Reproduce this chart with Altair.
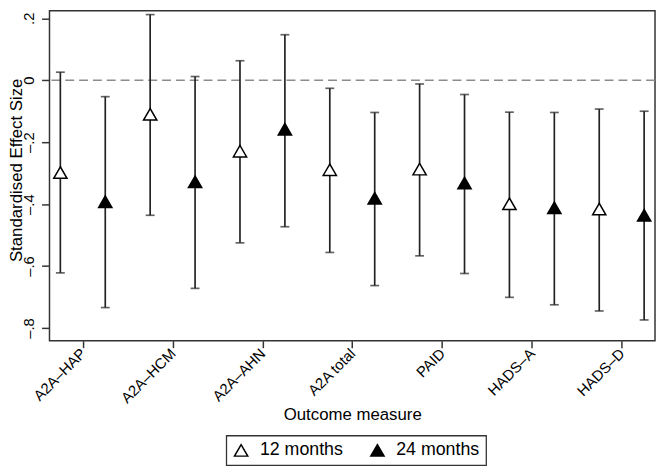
import altair as alt
import pandas as pd

measures = ["A2A–HAP", "A2A–HCM", "A2A–AHN", "A2A total", "PAID", "HADS–A", "HADS–D"]
series = ["12 months", "24 months"]
est12 = [-0.298, -0.110, -0.229, -0.289, -0.287, -0.399, -0.416]
lo12 = [-0.622, -0.436, -0.525, -0.556, -0.567, -0.701, -0.745]
hi12 = [0.026, 0.212, 0.063, -0.026, -0.012, -0.103, -0.093]
est24 = [-0.392, -0.328, -0.158, -0.381, -0.332, -0.412, -0.436]
lo24 = [-0.734, -0.672, -0.473, -0.663, -0.624, -0.725, -0.774]
hi24 = [-0.053, 0.012, 0.147, -0.104, -0.046, -0.104, -0.100]
y_ticks = [-0.8, -0.6, -0.4, -0.2, 0, 0.2]

rows = []
for i, m in enumerate(measures):
    rows.append({"measure": m, "series": series[0], "pos": i - 0.25,
                 "est": est12[i], "lo": lo12[i], "hi": hi12[i]})
    rows.append({"measure": m, "series": series[1], "pos": i + 0.25,
                 "est": est24[i], "lo": lo24[i], "hi": hi24[i]})
df = pd.DataFrame(rows)

FONT = "Liberation Sans"
label_arr = "[" + ",".join("'" + m + "'" for m in measures) + "]"

x_enc = alt.X("pos:Q",
              scale=alt.Scale(domain=[-0.371, 6.371], nice=False, zero=False),
              axis=alt.Axis(values=list(range(len(measures))),
                            labelExpr=label_arr + "[round(datum.value)]",
                            labelAngle=315, labelAlign="right", labelBaseline="middle",
                            labelPadding=3, tickSize=7, tickWidth=1.5, tickColor="#333",
                            labelFontSize=15, labelFont=FONT, labelColor="black",
                            domain=False, grid=False,
                            title="Outcome measure", titleFontSize=17, titleFont=FONT,
                            titleFontWeight="normal", titleColor="black",
                            titleX=306.5, titleY=80, titleBaseline="alphabetic",
                            titleAlign="center"))
y_scale = alt.Scale(domain=[-0.8411, 0.2242], nice=False, zero=False)
y_axis = alt.Axis(values=y_ticks,
                  labelExpr="datum.value == 0 ? '0' : (datum.value < 0 ? '–' : '') + '.' + format(abs(datum.value) * 10, '.0f')",
                  labelAngle=270, labelAlign="center", labelBaseline="alphabetic",
                  labelPadding=8, tickSize=8, tickWidth=1.5, tickColor="#333",
                  labelFontSize=15, labelFont=FONT, labelColor="black",
                  domain=False, grid=False,
                  title="Standardised Effect Size", titleFontSize=17, titleFont=FONT,
                  titleFontWeight="normal", titleColor="black",
                  titleAngle=270, titleX=-28, titleY=161, titleBaseline="alphabetic",
                  titleAlign="center")

base = alt.Chart(df)

zero = alt.Chart(pd.DataFrame({"v": [0]})).mark_rule(
    color="#8c8c8c", strokeWidth=1.5, strokeDash=[9, 5]
).encode(y=alt.Y("v:Q", scale=y_scale, axis=y_axis))

bars = base.mark_rule(color="#222", strokeWidth=1.7).encode(
    x=x_enc, y=alt.Y("lo:Q", scale=y_scale, axis=y_axis), y2="hi:Q")

cap_lo = base.mark_tick(orient="horizontal", size=9, thickness=1.7, color="#222").encode(
    x=x_enc, y=alt.Y("lo:Q", scale=y_scale, axis=y_axis))
cap_hi = base.mark_tick(orient="horizontal", size=9, thickness=1.7, color="#222").encode(
    x=x_enc, y=alt.Y("hi:Q", scale=y_scale, axis=y_axis))

pts = base.mark_point(shape="triangle-up", filled=True, size=180, stroke="black",
                      strokeWidth=1.5, opacity=1).encode(
    x=x_enc, y=alt.Y("est:Q", scale=y_scale, axis=y_axis),
    fill=alt.Fill("series:N", scale=alt.Scale(domain=series, range=["white", "black"]),
                  legend=alt.Legend(orient="none", legendX=179, legendY=430,
                                    direction="horizontal", title=None,
                                    strokeColor="#333", padding=6,
                                    symbolType="triangle-up", symbolSize=180,
                                    symbolStrokeColor="black", symbolStrokeWidth=1.5,
                                    labelFontSize=18, labelFont=FONT, labelColor="black",
                                    columnPadding=24, labelOffset=10))
)

chart = alt.layer(zero, bars, cap_lo, cap_hi, pts).properties(
    width=613, height=334,
    autosize=alt.AutoSizeParams(type="none"),
    padding={"left": 42, "top": 0, "right": 1, "bottom": 127},
    background="white",
).configure_view(stroke="#333", strokeWidth=1.5).configure_legend(strokeWidth=1.3)

chart.save("out.html", embed_options={"renderer": "svg", "actions": False})
